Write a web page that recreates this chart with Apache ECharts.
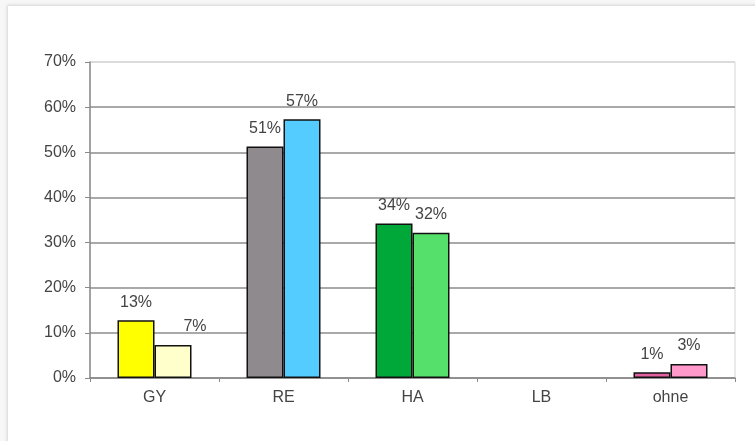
<!DOCTYPE html>
<html>
<head>
<meta charset="utf-8">
<script src="https://cdn.jsdelivr.net/npm/echarts@6/dist/echarts.min.js"></script>
<style>
html,body{margin:0;padding:0;background:#f7f7f7;width:755px;height:441px;overflow:hidden;}
#frame{position:absolute;left:8px;top:6px;width:800px;height:500px;background:#fff;box-shadow:0 0 3px 1px rgba(0,0,0,0.14);}
#chart{position:absolute;left:0;top:0;width:755px;height:441px;}
</style>
</head>
<body>
<div id="frame"></div>
<div id="chart"></div>
<script>
var categories = ['GY', 'RE', 'HA', 'LB', 'ohne'];
var seriesA = [12.8, 51.3, 34.2, null, 1.3];
var seriesB = [7.3, 57.3, 32.2, null, 3.1];
var colorsA = ['#ffff00', '#8e8a8e', '#00a83a', '#e060a0', '#e060a0'];
var colorsB = ['#ffffcc', '#55ccff', '#55e06c', '#ff99cc', '#ff99cc'];
var yTicks = [0, 10, 20, 30, 40, 50, 60, 70];

var fontFam = '"Liberation Sans", Arial, sans-serif';

function build(values, colors, offsets) {
  return values.map(function (v, i) {
    var item = { value: v, itemStyle: { color: colors[i] } };
    if (offsets && offsets[i]) item.label = { offset: offsets[i] };
    return item;
  });
}

var labelCfg = {
  show: true,
  position: 'top',
  distance: 10,
  color: '#444',
  fontSize: 16,
  fontFamily: fontFam,
  formatter: function (p) { return p.value == null ? '' : Math.round(p.value) + '%'; }
};

var chart = echarts.init(document.getElementById('chart'), null, { renderer: 'canvas' });
chart.setOption({
  backgroundColor: 'transparent',
  animation: false,
  grid: { left: 90, right: 20, top: 62, bottom: 63, show: true, borderColor: '#d6d6d6', borderWidth: 1 },
  xAxis: {
    type: 'category',
    data: categories,
    axisLine: { lineStyle: { color: '#8a8a8a', width: 1.5 } },
    axisTick: { show: true, alignWithLabel: false, length: 4, lineStyle: { color: '#8a8a8a' } },
    axisLabel: { color: '#444', fontSize: 16, fontFamily: fontFam, margin: 12 }
  },
  yAxis: {
    type: 'value',
    min: 0,
    max: 70,
    interval: 10,
    axisLine: { show: true, lineStyle: { color: '#8a8a8a', width: 1.5 } },
    axisTick: { show: true, length: 5, lineStyle: { color: '#8a8a8a' } },
    axisLabel: { color: '#444', fontSize: 16, fontFamily: fontFam, margin: 14, formatter: function (v) { return v + '%'; } },
    splitLine: { show: true, lineStyle: { color: ['#8c8c8c', '#8c8c8c', '#8c8c8c', '#8c8c8c', '#8c8c8c', '#8c8c8c', '#8c8c8c', '#d6d6d6'], width: 1.5 } }
  },
  series: [
    {
      type: 'bar',
      data: build(seriesA, colorsA),
      barWidth: 37,
      barGap: '0%',
      itemStyle: { borderColor: '#111', borderWidth: 1.5 },
      label: labelCfg
    },
    {
      type: 'bar',
      data: build(seriesB, colorsB, [[22, 0], null, null, null, null]),
      barWidth: 37,
      itemStyle: { borderColor: '#111', borderWidth: 1.5 },
      label: labelCfg
    }
  ]
});
</script>
</body>
</html>
